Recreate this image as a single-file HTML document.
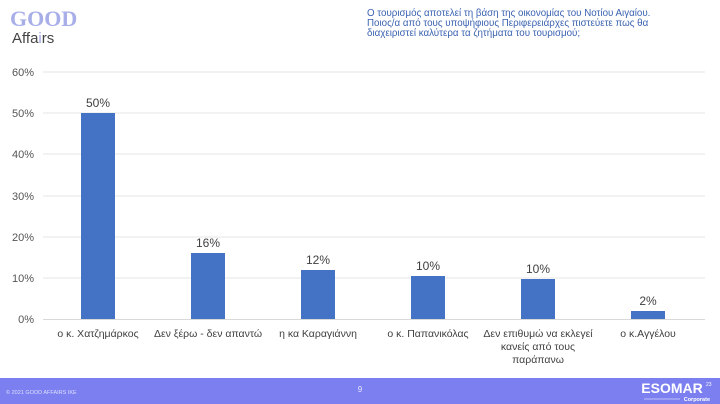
<!DOCTYPE html>
<html><head><meta charset="utf-8"><style>
body{margin:0;width:720px;height:404px;background:#fff;position:relative;overflow:hidden;font-family:"Liberation Sans","DejaVu Sans",sans-serif}
.a{position:absolute}
</style></head><body>
<div class="a" style="left:10px;top:6px;font-family:'Liberation Serif',serif;font-weight:bold;font-size:22px;color:#a8aee8">GOOD</div>
<div class="a" style="left:12px;top:30px;font-size:15px;color:#444">Affa<span style="color:#9aa0e0">i</span>rs</div>
<div class="a" style="left:367px;top:8px;font-size:10.5px;line-height:10px;color:#3a62b0;transform:scaleX(0.93);transform-origin:left">Ο τουρισμός αποτελεί τη βάση της οικονομίας του Νοτίου Αιγαίου.<br>Ποιος/α από τους υποψήφιους Περιφερειάρχες πιστεύετε πως θα<br>διαχειριστεί καλύτερα τα ζητήματα του τουρισμού;</div>
<svg class="a" style="left:0;top:0" width="720" height="404">
<g stroke="#e6e6e6" stroke-width="1">
<line x1="43" x2="705" y1="72" y2="72"/><line x1="43" x2="705" y1="113" y2="113"/><line x1="43" x2="705" y1="154" y2="154"/><line x1="43" x2="705" y1="196" y2="196"/><line x1="43" x2="705" y1="237" y2="237"/><line x1="43" x2="705" y1="278" y2="278"/>
</g>
<line x1="43" x2="705" y1="319.5" y2="319.5" stroke="#d9d9d9"/>
<g font-size="11" fill="#555" text-anchor="end">
<text x="34" y="76">60%</text><text x="34" y="117">50%</text><text x="34" y="158">40%</text><text x="34" y="200">30%</text><text x="34" y="241">20%</text><text x="34" y="282">10%</text><text x="34" y="323">0%</text>
</g>
<g fill="#4472c4">
<rect x="81" y="113" width="34" height="206"/>
<rect x="191" y="253" width="34" height="66"/>
<rect x="301" y="270" width="34" height="49"/>
<rect x="411" y="276" width="34" height="43"/>
<rect x="521" y="279" width="34" height="40"/>
<rect x="631" y="311" width="34" height="8"/>
</g>
<g font-size="12" fill="#404040" text-anchor="middle">
<text x="98" y="107">50%</text><text x="208" y="247">16%</text><text x="318" y="264">12%</text><text x="428" y="270">10%</text><text x="538" y="273">10%</text><text x="648" y="305">2%</text>
</g>
<g font-size="10.5" fill="#404040" text-anchor="middle">
<text x="98" y="337">ο κ. Χατζημάρκος</text>
<text x="208" y="337">Δεν ξέρω - δεν απαντώ</text>
<text x="318" y="337">η κα Καραγιάννη</text>
<text x="428" y="337">ο κ. Παπανικόλας</text>
<text x="538" y="337">Δεν επιθυμώ να εκλεγεί</text>
<text x="538" y="350">κανείς από τους</text>
<text x="538" y="363">παράπανω</text>
<text x="648" y="337">ο κ.Αγγέλου</text>
</g>
<rect x="0" y="378" width="720" height="26" fill="#7b7ff0"/>
<text x="6" y="394" font-size="5.5" fill="#dfe0ff">© 2021 GOOD AFFAIRS IKE</text>
<text x="360" y="392" font-size="8" fill="#e8e8ff" text-anchor="middle">9</text>
<text x="672" y="393" font-size="14" font-weight="bold" fill="#fff" text-anchor="middle">ESOMAR</text>
<text x="706" y="386" font-size="5" fill="#fff">23</text>
<line x1="644" x2="680" y1="399" y2="399" stroke="#fff" stroke-width="0.6"/>
<text x="710" y="401" font-size="5.5" font-weight="bold" fill="#fff" text-anchor="end">Corporate</text>
</svg>
</body></html>
